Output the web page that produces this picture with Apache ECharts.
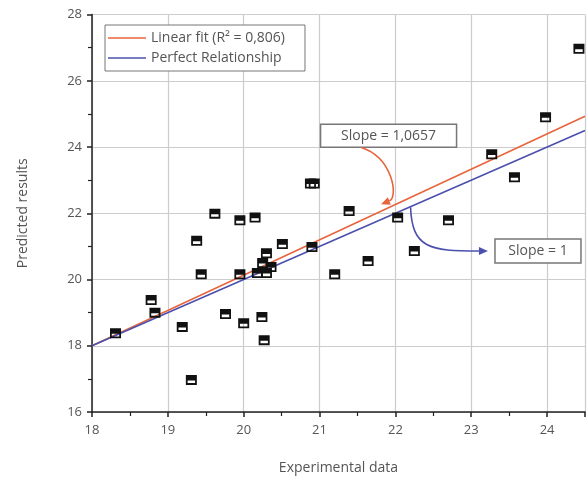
<!DOCTYPE html>
<html><head><meta charset="utf-8">
<script src="https://cdn.jsdelivr.net/npm/echarts@6/dist/echarts.min.js"></script>
<style>html,body{margin:0;padding:0;background:#fff}#c{width:588px;height:480px}</style>
</head><body><div id="c"></div>
<script>
const expX = [18.31,18.78,18.83,19.19,19.31,19.38,19.44,19.62,19.76,19.95,19.95,20.0,20.15,20.18,20.24,20.27,20.25,20.3,20.3,20.36,20.51,20.88,20.93,20.9,21.2,21.39,21.64,22.03,22.25,22.7,23.27,23.57,23.98,24.42];
const predY = [18.38,19.38,19.0,18.57,16.97,21.17,20.16,21.99,18.96,21.79,20.16,18.68,21.87,20.2,18.87,18.17,20.5,20.79,20.2,20.38,21.07,22.9,22.9,20.98,20.16,22.07,20.56,21.87,20.86,21.79,23.78,23.09,24.9,26.97];
const fitLineX = [18, 24.5];
const fitLineY = [18, 24.93];
const perfectX = [18, 24.5];
const perfectY = [18, 24.5];
const seriesNames = ['Linear fit (R\u00b2 = 0,806)', 'Perfect Relationship'];
const xTicks = [18,19,20,21,22,23,24];
const yTicks = [16,18,20,22,24,26,28];
const annotFit = {text:'Slope = 1,0657', x:21.91, y:24.34};
const annotPerfect = {text:'Slope = 1', x:23.88, y:20.86};

const FONT = '"Open Sans", "Noto Sans", sans-serif';
const RED = '#e8643c', BLUE = '#4b50ae';
const chart = echarts.init(document.getElementById('c'), null, {renderer:'canvas'});
const zip = (a,b)=>a.map((v,i)=>[v,b[i]]);
const marker = 'path://M0 0 H10 V9 H0 Z M1.6 5 V7.4 H8.4 V5 Z';
const lineIcon = 'path://M0 0 H40 V1.6 H0 Z';
chart.setOption({
  animation:false,
  backgroundColor:'#fff',
  grid:{left:92, right:0, top:14.6, bottom:67, containLabel:false},
  legend:{
    orient:'vertical', left:105, top:25,
    data:[{name:seriesNames[0], icon:lineIcon},{name:seriesNames[1], icon:lineIcon}],
    backgroundColor:'#fff', borderColor:'#777', borderWidth:1,
    padding:[6,20,6,3], itemGap:6, itemWidth:38, itemHeight:1.6,
    textStyle:{fontFamily:FONT, fontSize:14, color:'#555'}
  },
  xAxis:{
    type:'value', min:18, max:24.5, interval:1,
    name:'Experimental data', nameLocation:'middle', nameGap:49,
    nameTextStyle:{fontFamily:FONT, fontSize:14, color:'#555'},
    axisLine:{show:true, onZero:false, lineStyle:{color:'#222', width:1.5}},
    axisTick:{show:true, length:5, lineStyle:{color:'#222', width:1.5}},
    minorTick:{show:true, splitNumber:2, length:4, lineStyle:{color:'#222', width:1.2}},
    axisLabel:{fontFamily:FONT, fontSize:13, color:'#555', margin:12,
      formatter:v=>xTicks.includes(v)?String(v):''},
    splitLine:{show:true, lineStyle:{color:'#ccc', width:1.2}}
  },
  yAxis:{
    type:'value', min:16, max:28, interval:2,
    name:'Predicted results', nameLocation:'middle', nameGap:62,
    nameTextStyle:{fontFamily:FONT, fontSize:14, color:'#555'},
    axisLine:{show:true, onZero:false, lineStyle:{color:'#222', width:1.5}},
    axisTick:{show:true, length:5, lineStyle:{color:'#222', width:1.5}},
    minorTick:{show:true, splitNumber:2, length:4, lineStyle:{color:'#222', width:1.2}},
    axisLabel:{fontFamily:FONT, fontSize:13, color:'#555', margin:10,
      formatter:v=>yTicks.includes(v)?String(v):''},
    splitLine:{show:true, lineStyle:{color:'#ccc', width:1.2}}
  },
  series:[
    {name:seriesNames[0], type:'line', data:zip(fitLineX,fitLineY), symbol:'none',
      lineStyle:{color:RED, width:1.6}, itemStyle:{color:RED}, z:3},
    {name:seriesNames[1], type:'line', data:zip(perfectX,perfectY), symbol:'none',
      lineStyle:{color:BLUE, width:1.6}, itemStyle:{color:BLUE}, z:3},
    {name:'data', type:'scatter', data:zip(expX,predY), symbol:marker, symbolSize:[11,10],
      itemStyle:{color:'#111', opacity:1}, z:4}
  ]
});

function px(x,y){return chart.convertToPixel({gridIndex:0},[x,y]);}
function box(a, w, h){
  const p = px(a.x,a.y);
  return {type:'group', x:p[0]-w/2, y:p[1]-h/2, z:10, children:[
    {type:'rect', shape:{x:0,y:0,width:w,height:h}, style:{fill:'#fff', stroke:'#777', lineWidth:1.5}},
    {type:'text', x:w/2, y:h/2, style:{text:a.text, fill:'#555', font:'14px '+FONT, align:'center', verticalAlign:'middle'}}
  ]};
}
function arrow(p0,p1,p2,p3,color){
  const dx=p3[0]-p2[0], dy=p3[1]-p2[1], L=Math.hypot(dx,dy), ux=dx/L, uy=dy/L;
  const hl=9, hw=4;
  const b=[p3[0]-ux*hl, p3[1]-uy*hl];
  return [
    {type:'bezierCurve', z:10, shape:{x1:p0[0],y1:p0[1],cpx1:p1[0],cpy1:p1[1],cpx2:p2[0],cpy2:p2[1],x2:b[0],y2:b[1]},
      style:{stroke:color, lineWidth:1.6, fill:null}},
    {type:'polygon', z:10, shape:{points:[p3,[b[0]-uy*hw,b[1]+ux*hw],[b[0]+uy*hw,b[1]-ux*hw]]}, style:{fill:color}}
  ];
}
// arrow anchors in data coords
const fitArrow = [[21.55,23.99],[21.97,23.68],[22.04,22.48],[21.81,22.27]];
const perfArrow = [[22.2,22.18],[22.22,20.95],[22.45,20.86],[23.22,20.86]];
const f = fitArrow.map(p=>px(p[0],p[1]));
const g = perfArrow.map(p=>px(p[0],p[1]));
chart.setOption({graphic:[
  ...arrow(f[0],f[1],f[2],f[3],RED),
  ...arrow(g[0],g[1],g[2],g[3],BLUE),
  box(annotFit,136,23),
  box(annotPerfect,86,24)
]});
</script></body></html>
